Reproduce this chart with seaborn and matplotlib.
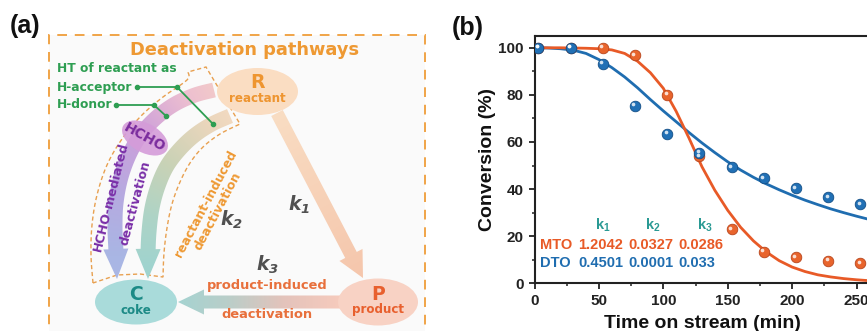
import numpy as np
import matplotlib
matplotlib.use("Agg")
import matplotlib.pyplot as plt
import seaborn as sns
from matplotlib.patches import Polygon, Ellipse, Rectangle
from matplotlib.colors import to_rgb
from matplotlib.ticker import MultipleLocator
import matplotlib.transforms as mtransforms

# ---------------- data (panel b) ----------------
time_points = [3, 28, 53, 78, 103, 128, 153, 178, 203, 228, 253]
mto_conversion = [100, 100, 100, 96.8, 80.0, 54.0, 22.9, 13.4, 11.0, 9.5, 8.5]
dto_conversion = [100, 100, 93.1, 75.4, 63.4, 55.4, 49.2, 44.6, 40.3, 36.5, 33.5]
fit_time = [0, 10, 20, 30, 40, 50, 60, 70, 80, 90, 100, 110, 120, 130,
            140, 150, 160, 170, 180, 190, 200, 210, 220, 230, 240, 250, 260]
mto_fit = [100, 100, 100, 99.9, 99.8, 99.6, 99.1, 97.6, 94.3, 89.4, 82.8, 73.0, 61.6, 49.5,
           39.5, 31.0, 23.8, 18.0, 13.3, 9.6, 6.9, 5.0, 3.6, 2.7, 2.0, 1.5, 1.1]
dto_fit = [100, 99.9, 99.6, 99.0, 97.6, 95.0, 91.6, 87.6, 83.0, 78.0, 73.2, 68.6, 64.0, 59.6,
           55.5, 51.6, 48.1, 45.0, 42.2, 39.7, 37.4, 35.3, 33.4, 31.6, 30.0, 28.5, 27.1]
k_names = [r"$\mathbf{k_1}$", r"$\mathbf{k_2}$", r"$\mathbf{k_3}$"]
mto_k = ["1.2042", "0.0327", "0.0286"]
dto_k = ["0.4501", "0.0001", "0.033"]
x_ticks = [0, 50, 100, 150, 200, 250]
y_ticks = [0, 20, 40, 60, 80, 100]

ORANGE = "#E85A27"
BLUE = "#1F6DB0"
TEAL_K = "#2A9A94"

sns.set_style("ticks")
plt.rcParams["font.family"] = ["Liberation Sans", "DejaVu Sans"]
plt.rcParams["font.weight"] = "bold"
plt.rcParams["mathtext.fontset"] = "custom"
plt.rcParams["mathtext.bf"] = "Liberation Sans:bold"
plt.rcParams["mathtext.it"] = "DejaVu Sans:italic:bold"
plt.rcParams["mathtext.rm"] = "DejaVu Sans:italic:bold"

W, H = 867, 331
fig = plt.figure(figsize=(W / 100, H / 100), dpi=100)

# ====================== panel (a): schematic in pixel coordinates ======================
axA = fig.add_axes([0, 0, 1, 1], zorder=0)
axA.set_xlim(0, W)
axA.set_ylim(0, H)
axA.axis("off")


def S(pts):
    return np.array([(x, H - y) for x, y in pts], float)


def catmull(P, n=12):
    P = np.asarray(P, float)
    P2 = np.vstack([P[0], P, P[-1]])
    out = []
    for i in range(1, len(P2) - 2):
        p0, p1, p2, p3 = P2[i - 1], P2[i], P2[i + 1], P2[i + 2]
        for t in np.linspace(0, 1, n, endpoint=False):
            out.append(0.5 * ((2 * p1) + (-p0 + p2) * t + (2 * p0 - 5 * p1 + 4 * p2 - p3) * t ** 2
                              + (-p0 + 3 * p1 - 3 * p2 + p3) * t ** 3))
    out.append(P[-1])
    return np.array(out)


def ribbon_arrow(pts, w, hw, hl):
    pts = np.asarray(pts, float)
    seg = np.diff(pts, axis=0)
    L = np.hypot(seg[:, 0], seg[:, 1])
    cum = np.r_[0, np.cumsum(L)]
    stop = cum[-1] - hl
    body = pts[cum < stop]
    base = np.array([np.interp(stop, cum, pts[:, 0]), np.interp(stop, cum, pts[:, 1])])
    body = np.vstack([body, base])
    d = np.gradient(body, axis=0)
    n = np.stack([-d[:, 1], d[:, 0]], 1)
    n /= np.hypot(n[:, 0], n[:, 1])[:, None]
    left = body + n * w / 2
    right = body - n * w / 2
    tip = pts[-1]
    hd = tip - base
    hd /= np.linalg.norm(hd)
    hn = np.array([-hd[1], hd[0]])
    return np.vstack([left, base + hn * hw / 2, tip, base - hn * hw / 2, right[::-1]])


def stops_rgb(p, stops):
    pos = [s[0] for s in stops]
    cols = np.array([to_rgb(s[1]) for s in stops])
    return np.stack([np.interp(p, pos, cols[:, k]) for k in range(3)], -1)


def grad_patch(ax, verts, param_fn, stops, z):
    poly = Polygon(verts, closed=True, facecolor="none", edgecolor="none", zorder=z)
    ax.add_patch(poly)
    x0, x1 = verts[:, 0].min() - 2, verts[:, 0].max() + 2
    y0, y1 = verts[:, 1].min() - 2, verts[:, 1].max() + 2
    nx, ny = int((x1 - x0) * 2) + 2, int((y1 - y0) * 2) + 2
    gx, gy = np.meshgrid(np.linspace(x0, x1, nx), np.linspace(y0, y1, ny))
    img = stops_rgb(param_fn(gx, gy), stops)
    im = ax.imshow(img, extent=[x0, x1, y0, y1], origin="lower", zorder=z,
                   aspect="auto", interpolation="bilinear")
    im.set_clip_path(poly)


# outer dashed frame
axA.add_patch(Rectangle((49, -20), 376, H - 35 + 20, facecolor="#FAFAFA",
                        edgecolor="#F0A448", lw=1.4, linestyle=(0, (5, 4)), zorder=0))

# dashed outline around curved pathways
outer_d = [(93, 283), (91, 255), (92, 225), (97, 195), (107, 165), (122, 139), (141, 116),
           (163, 97), (187, 80), (188, 72)]
inner_d = [(240, 124), (220, 134), (203, 147), (190, 163), (180, 182), (172, 204),
           (167, 228), (164, 253), (163, 277)]
outline = np.vstack([catmull(S(outer_d), 6), S([(206, 67)]), catmull(S(inner_d), 6),
                     S([(140, 274), (117, 275)])])
axA.add_patch(Polygon(outline, closed=True, fill=False, edgecolor="#E8A050", lw=1.0,
                      linestyle=(0, (3, 2)), zorder=1))

# curved arrows
CX, CY = 299, H - 256


def ang(gx, gy):
    return np.degrees(np.arctan2(gy - CY, gx - CX)) % 360


outer_c = catmull(S([(214, 90), (195, 95), (175, 104), (157, 117), (142, 133), (130, 153),
                     (121, 177), (116, 203), (115, 228), (116, 252), (117, 279)]), 10)
inner_c = catmull(S([(230, 116), (212, 124), (195, 135), (180, 149), (167, 166), (158, 186),
                     (152, 208), (149, 232), (148, 255), (148, 279)]), 10)
grad_patch(axA, ribbon_arrow(outer_c, 15, 25, 30), ang,
           [(110, "#F6D2C4"), (125, "#EDBFD0"), (142, "#CDA0DA"), (160, "#B7A9E0"),
            (180, "#A9B6E4"), (200, "#A9B9E4")], 2)
grad_patch(axA, ribbon_arrow(inner_c, 15, 25, 30), ang,
           [(110, "#F7DCC4"), (125, "#EAD6BC"), (145, "#C9D2B6"), (165, "#AED4C6"),
            (185, "#9FD3CF"), (200, "#9FD3CF")], 2)

# straight arrows
p0, p1 = S([(277, 113)])[0], S([(363, 278)])[0]
grad_patch(axA, ribbon_arrow(np.array([p0, p1]), 13, 26, 26),
           lambda gx, gy: ((gx - p0[0]) * (p1 - p0)[0] + (gy - p0[1]) * (p1 - p0)[1]) / ((p1 - p0) @ (p1 - p0)),
           [(0, "#F9DDC3"), (1, "#F5C6AC")], 2)
q0, q1 = S([(342, 302)])[0], S([(178, 302)])[0]
grad_patch(axA, ribbon_arrow(np.array([q0, q1]), 13, 25, 26),
           lambda gx, gy: (q0[0] - gx) / (q0[0] - q1[0]),
           [(0, "#F7CBBD"), (0.35, "#E4C3BB"), (0.7, "#B9CEC9"), (1, "#A5D3D1")], 2)

# ellipses
axA.add_patch(Ellipse((257.5, H - 91.5), 81, 47, facecolor="#FADDC2", edgecolor="none", zorder=3))
axA.add_patch(Ellipse((378, H - 302), 80, 47, facecolor="#F8D2C4", edgecolor="none", zorder=3))
axA.add_patch(Ellipse((136, H - 302), 82, 45, facecolor="#A9DBDA", edgecolor="none", zorder=3))
axA.add_patch(Ellipse((145, H - 138), 50, 29, angle=-29, facecolor="#D59CD9", alpha=0.9,
                      edgecolor="none", zorder=4))

FA = ["DejaVu Sans"]
axA.text(10, H - 26, "(a)", fontsize=18, fontweight="bold", ha="left", va="center",
         family=["Liberation Sans"], color="#111111")
axA.text(452, H - 27.5, "(b)", fontsize=18, fontweight="bold", ha="left", va="center",
         family=["Liberation Sans"], color="#111111")
axA.text(245, H - 50, "Deactivation pathways", fontsize=12.8, fontweight="bold", family=FA,
         color="#EE9933", ha="center", va="center", zorder=5)

GREEN = "#2E9E52"
for txt, y in [("HT of reactant as", 69), ("H-acceptor", 87), ("H-donor", 105)]:
    axA.text(57, H - y, txt, fontsize=8.8, fontweight="bold", family=FA, color=GREEN,
             ha="left", va="center", zorder=6)
for pts in [[(137, 87), (177, 87), (213, 124)], [(116, 105), (154, 105), (166, 116)]]:
    P = S(pts)
    axA.plot(P[:, 0], P[:, 1], color=GREEN, lw=1.3, marker="o", markersize=3, zorder=6)

axA.text(257.5, H - 83, "R", fontsize=13.5, fontweight="bold", family=FA, color="#EE9530",
         ha="center", va="center", zorder=5)
axA.text(257.5, H - 99, "reactant", fontsize=8.6, fontweight="bold", family=FA, color="#EE9530",
         ha="center", va="center", zorder=5)
axA.text(378, H - 294, "P", fontsize=13.5, fontweight="bold", family=FA, color="#E8602E",
         ha="center", va="center", zorder=5)
axA.text(378, H - 310, "product", fontsize=8.6, fontweight="bold", family=FA, color="#E8602E",
         ha="center", va="center", zorder=5)
axA.text(136, H - 294.5, "C", fontsize=13.5, fontweight="bold", family=FA, color="#1C8A86",
         ha="center", va="center", zorder=5)
axA.text(136, H - 310, "coke", fontsize=8.6, fontweight="bold", family=FA, color="#1C8A86",
         ha="center", va="center", zorder=5)
axA.text(145, H - 138, "HCHO", fontsize=10, fontweight="bold", family=FA, color="#7B2D9E",
         ha="center", va="center", rotation=-29, rotation_mode="anchor", zorder=5)

PURPLE = "#7A2FA8"
axA.text(111, H - 197, "HCHO-mediated", fontsize=9, fontweight="bold", family=FA, color=PURPLE,
         ha="center", va="center", rotation=76, rotation_mode="anchor", zorder=5)
axA.text(135, H - 203, "deactivation", fontsize=9, fontweight="bold", family=FA, color=PURPLE,
         ha="center", va="center", rotation=75, rotation_mode="anchor", zorder=5)
axA.text(206, H - 204, "reactant-induced", fontsize=8.9, fontweight="bold", family=FA,
         color="#EE9933", ha="center", va="center", rotation=62, rotation_mode="anchor", zorder=5)
axA.text(218, H - 211, "deactivation", fontsize=8.9, fontweight="bold", family=FA,
         color="#EE9933", ha="center", va="center", rotation=62, rotation_mode="anchor", zorder=5)
axA.text(267, H - 286, "product-induced", fontsize=9.4, fontweight="bold", family=FA,
         color="#E8703C", ha="center", va="center", zorder=5)
axA.text(267, H - 315, "deactivation", fontsize=9.4, fontweight="bold", family=FA,
         color="#E8703C", ha="center", va="center", zorder=5)
for lab, (x, y) in [(r"$k_1$", (299, 205)), (r"$k_2$", (231, 220)), (r"$k_3$", (267, 265))]:
    axA.text(x, H - y, lab, fontsize=13.5, color="#505050", ha="center", va="center", zorder=5)

# ====================== panel (b): conversion vs time ======================
xmax = 265
px_per_min = 1.288
ax_w = xmax * px_per_min
axB = fig.add_axes([534.5 / W, (H - 283.3) / H, ax_w / W, 247.3 / H], zorder=2)
axB.set_facecolor("none")

sns.lineplot(x=fit_time, y=dto_fit, ax=axB, color=BLUE, lw=2.0, zorder=3)
sns.lineplot(x=fit_time, y=mto_fit, ax=axB, color=ORANGE, lw=2.0, zorder=3)

hl = mtransforms.offset_copy(axB.transData, fig=fig, x=-1.6, y=1.6, units="dots")
for yv, c, ec in [(mto_conversion, "#E8642C", "#B8451C"), (dto_conversion, "#2170B5", "#124E86")]:
    sns.scatterplot(x=time_points, y=yv, ax=axB, color=c, s=58, edgecolor=ec, linewidth=0.6,
                    zorder=4)
    sns.scatterplot(x=time_points, y=yv, ax=axB, color="white", s=7, alpha=0.8, linewidth=0,
                    zorder=5, transform=hl)

axB.set_xlim(0, xmax)
axB.set_ylim(0, 105)
axB.set_xticks(x_ticks)
axB.set_yticks(y_ticks)
axB.xaxis.set_minor_locator(MultipleLocator(25))
axB.yaxis.set_minor_locator(MultipleLocator(10))
axB.tick_params(which="major", direction="out", length=4.5, width=1.3, labelsize=11,
                pad=3.5, colors="#222222")
axB.tick_params(which="minor", direction="out", length=2.5, width=1.1, colors="#222222")
for lbl in axB.get_xticklabels() + axB.get_yticklabels():
    lbl.set_fontweight("bold")
for side in ["left", "bottom", "top"]:
    axB.spines[side].set_visible(True)
    axB.spines[side].set_linewidth(1.5)
    axB.spines[side].set_color("#222222")
axB.spines["right"].set_visible(False)

axB.set_xlabel("Time on stream (min)", fontsize=14, fontweight="bold", color="#111111")
axB.set_ylabel("Conversion (%)", fontsize=14, fontweight="bold", color="#111111")
axB.xaxis.set_label_coords(0.491, -0.128)
axB.yaxis.set_label_coords(-0.112, 0.5)

k_centers = [53.4, 91.7, 132.4]
val_left = [33.8, 72.6, 111.4]
for kc, name in zip(k_centers, k_names):
    axB.text(kc, 24.7, name, color=TEAL_K, fontsize=10.5, ha="center", va="center")
axB.text(4.3, 16.3, "MTO", color=ORANGE, fontsize=10.5, fontweight="bold", ha="left", va="center")
axB.text(4.3, 8.5, "DTO", color=BLUE, fontsize=10.5, fontweight="bold", ha="left", va="center")
for xl, mv, dv in zip(val_left, mto_k, dto_k):
    axB.text(xl, 16.3, mv, color=ORANGE, fontsize=10.5, fontweight="bold", ha="left", va="center")
    axB.text(xl, 8.5, dv, color=BLUE, fontsize=10.5, fontweight="bold", ha="left", va="center")

fig.savefig("out.png", dpi=100, facecolor="white")
